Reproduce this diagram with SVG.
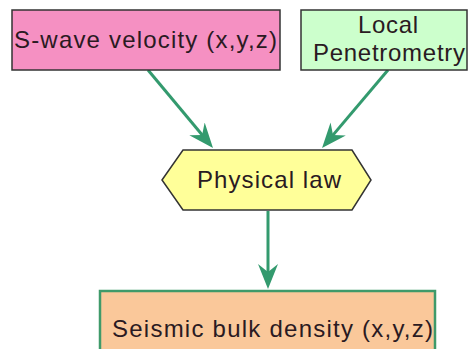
<svg xmlns="http://www.w3.org/2000/svg" width="469" height="349" viewBox="0 0 469 349">
<style>
text{font-family:"Liberation Sans",Arial,sans-serif;font-size:24px;fill:#2a1a22}
.box{stroke:#333;stroke-width:1.5}
.conn{stroke:#339a6e;stroke-width:3;fill:none}
</style>
<defs>
<marker id="ah" markerUnits="userSpaceOnUse" markerWidth="26" markerHeight="22" viewBox="0 0 26 22" refX="15" refY="11" orient="auto">
<path d="M25,11 L0,1 L8,11 L0,21 Z" fill="#339a6e"/>
</marker>
</defs>
<rect width="469" height="349" fill="#fff"/>
<g id="connectors">
<line class="conn" x1="148" y1="70" x2="206.6" y2="140.3" marker-end="url(#ah)"/>
<line class="conn" x1="388" y1="70" x2="328.5" y2="140.4" marker-end="url(#ah)"/>
<line class="conn" x1="268" y1="211" x2="268" y2="279" marker-end="url(#ah)"/>
</g>
<g id="swave">
<rect class="box" x="12" y="10" width="268" height="60" fill="#f590c2"/>
<text x="14" y="48" textLength="263" lengthAdjust="spacing">S-wave velocity (x,y,z)</text>
</g>
<g id="penetrometry">
<rect class="box" x="301" y="10" width="166" height="60" fill="#ccffcc"/>
<text x="388" y="33" text-anchor="middle" textLength="60" lengthAdjust="spacing">Local</text>
<text x="389" y="61" text-anchor="middle" textLength="152" lengthAdjust="spacing">Penetrometry</text>
</g>
<g id="law">
<polygon class="box" points="162,180 183,150 352,150 371,180 352,210 183,210" fill="#ffff99"/>
<text x="197" y="188" textLength="144" lengthAdjust="spacing">Physical law</text>
</g>
<g id="density">
<rect x="100" y="291" width="335" height="64" fill="#fac89a" stroke="#3f9a6a" stroke-width="2.5"/>
<text x="112" y="337" textLength="321" lengthAdjust="spacing">Seismic bulk density (x,y,z)</text>
</g>
</svg>
